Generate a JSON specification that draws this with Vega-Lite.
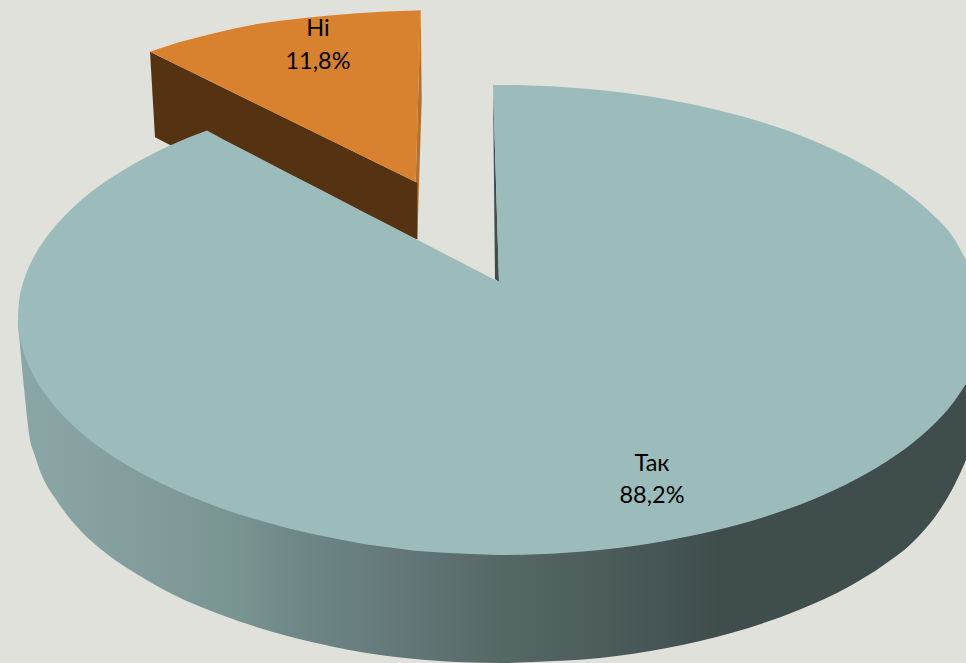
{"$schema":"https://vega.github.io/schema/vega-lite/v6.json","width":966,"height":663,"padding":0,"autosize":{"type":"fit","contains":"padding"},"background":"#E0E1DB","config":{"view":{"stroke":null}},
"datasets":{
"side":[{"x":18,"y":320,"y2":325},{"x":19,"y":320,"y2":335},{"x":24,"y":320,"y2":388},{"x":30,"y":320,"y2":440},{"x":34,"y":320,"y2":453},{"x":40,"y":320,"y2":471},{"x":57,"y":320,"y2":501},{"x":80,"y":320,"y2":530},{"x":107,"y":320,"y2":554},{"x":140,"y":320,"y2":576},{"x":173,"y":320,"y2":594.5},{"x":223,"y":320,"y2":615.5},{"x":273,"y":320,"y2":632},{"x":323,"y":320,"y2":644.5},{"x":373,"y":320,"y2":654},{"x":423,"y":320,"y2":659.7},{"x":501,"y":320,"y2":663},{"x":533,"y":320,"y2":662},{"x":600,"y":320,"y2":658},{"x":667,"y":320,"y2":648},{"x":733,"y":320,"y2":632.5},{"x":800,"y":320,"y2":609.6},{"x":850,"y":320,"y2":586},{"x":883,"y":320,"y2":565.5},{"x":917,"y":320,"y2":538},{"x":943,"y":320,"y2":505},{"x":955,"y":320,"y2":484},{"x":966,"y":320,"y2":460}],
"stripe":[{"x":415.7,"y":182,"y2":239},{"x":417.3,"y":127,"y2":239},{"x":420.7,"y":10,"y2":131},{"x":421.7,"y":100,"y2":100}],
"brown":[{"x":150,"y":51.7,"y2":51.7},{"x":155,"y":54.2,"y2":137.3},{"x":172,"y":62.6,"y2":146},{"x":415.7,"y":182,"y2":239},{"x":417.3,"y":182.8,"y2":239}],
"orange":[{"x":150,"y":51.7,"y2":51.7},{"x":178,"y":42.5,"y2":65.4},{"x":207,"y":35,"y2":79.6},{"x":232,"y":29,"y2":91.9},{"x":257,"y":24,"y2":104.2},{"x":282,"y":20.5,"y2":116.4},{"x":307,"y":17.7,"y2":128.7},{"x":332,"y":15.2,"y2":141},{"x":357,"y":13.3,"y2":153.2},{"x":387,"y":11.5,"y2":168},{"x":415.7,"y":10.5,"y2":182},{"x":420.7,"y":10.2,"y2":10.2}],
"dark":[{"x":493,"y":85,"y2":85},{"x":495,"y":150.7,"y2":279},{"x":499,"y":282,"y2":282}],
"tealsliver":[{"x":493,"y":85,"y2":85},{"x":499,"y":85,"y2":282}],
"mainLeft":[{"x":18,"y":316.5,"y2":316.5},{"x":19,"y":301.5,"y2":331.5},{"x":22,"y":286.5,"y2":346.5},{"x":26,"y":274,"y2":359},{"x":33,"y":258.5,"y2":374.5},{"x":47,"y":236.5,"y2":396.5},{"x":67,"y":213.5,"y2":419.5},{"x":83,"y":198.5,"y2":434.5},{"x":107,"y":180.5,"y2":452.5},{"x":133,"y":164.5,"y2":468.5},{"x":170,"y":145.5,"y2":487.5},{"x":207,"y":130.5,"y2":503}],
"mainMid":[{"x":207,"y":130.5,"y2":503},{"x":223,"y":139.3,"y2":509},{"x":240,"y":148.1,"y2":514.7},{"x":265,"y":161,"y2":522},{"x":290,"y":173.9,"y2":528.7},{"x":315,"y":186.8,"y2":534.5},{"x":340,"y":199.8,"y2":539.6},{"x":365,"y":212.7,"y2":544.2},{"x":390,"y":225.6,"y2":547.4},{"x":415,"y":238.6,"y2":550.7},{"x":440,"y":251.5,"y2":552.6},{"x":470,"y":267,"y2":554},{"x":499,"y":282,"y2":555}],
"mainRight":[{"x":499,"y":85,"y2":555},{"x":523,"y":85.2,"y2":554.8},{"x":580,"y":88.2,"y2":551.8},{"x":620,"y":92.2,"y2":547.8},{"x":647,"y":96,"y2":544},{"x":680,"y":102,"y2":538},{"x":713,"y":109,"y2":531},{"x":763,"y":122.6,"y2":517.4},{"x":813,"y":140.6,"y2":499.4},{"x":857,"y":161.2,"y2":478.8},{"x":897,"y":185.4,"y2":454.6},{"x":930,"y":212,"y2":428},{"x":953,"y":237,"y2":403},{"x":966,"y":260,"y2":384}],
"labels":[{"x":652,"y":471,"text":"Так"},{"x":652,"y":503,"text":"88,2%"},{"x":318,"y":36,"text":"Ні"},{"x":318,"y":69,"text":"11,8%"}]
},
"encoding":{"x":{"field":"x","type":"quantitative","scale":{"domain":[0,966],"nice":false,"zero":false},"axis":null},"y":{"field":"y","type":"quantitative","scale":{"domain":[663,0],"nice":false,"zero":false},"axis":null}},
"layer":[
{"data":{"name":"side"},"mark":{"type":"area","interpolate":"monotone","fill":{"gradient":"linear","x1":0,"y1":0,"x2":1,"y2":0,"stops":[{"offset":0,"color":"#8BA6A6"},{"offset":0.09,"color":"#86A0A0"},{"offset":0.235,"color":"#789490"},{"offset":0.29,"color":"#6F8888"},{"offset":0.39,"color":"#657A7B"},{"offset":0.51,"color":"#566866"},{"offset":0.62,"color":"#4B5C5B"},{"offset":0.74,"color":"#3F4D4D"},{"offset":1,"color":"#3F4D4D"}]}},"encoding":{"y2":{"field":"y2"}}},
{"data":{"name":"stripe"},"mark":{"type":"area","color":"#B5722F"},"encoding":{"y2":{"field":"y2"}}},
{"data":{"name":"brown"},"mark":{"type":"area","color":"#553211"},"encoding":{"y2":{"field":"y2"}}},
{"data":{"name":"orange"},"mark":{"type":"area","color":"#D8822F"},"encoding":{"y2":{"field":"y2"}}},
{"data":{"name":"dark"},"mark":{"type":"area","color":"#3F4D4D"},"encoding":{"y2":{"field":"y2"}}},
{"data":{"name":"tealsliver"},"mark":{"type":"area","color":"#9CBCBC"},"encoding":{"y2":{"field":"y2"}}},
{"data":{"name":"mainLeft"},"mark":{"type":"area","color":"#9CBCBC","interpolate":"monotone"},"encoding":{"y2":{"field":"y2"}}},
{"data":{"name":"mainMid"},"mark":{"type":"area","color":"#9CBCBC"},"encoding":{"y2":{"field":"y2"}}},
{"data":{"name":"mainRight"},"mark":{"type":"area","color":"#9CBCBC","interpolate":"monotone"},"encoding":{"y2":{"field":"y2"}}},
{"data":{"name":"labels"},"mark":{"type":"text","font":"Lato","fontSize":23.5,"color":"#000000","align":"center","baseline":"alphabetic"},"encoding":{"text":{"field":"text","type":"nominal"}}}
]}
